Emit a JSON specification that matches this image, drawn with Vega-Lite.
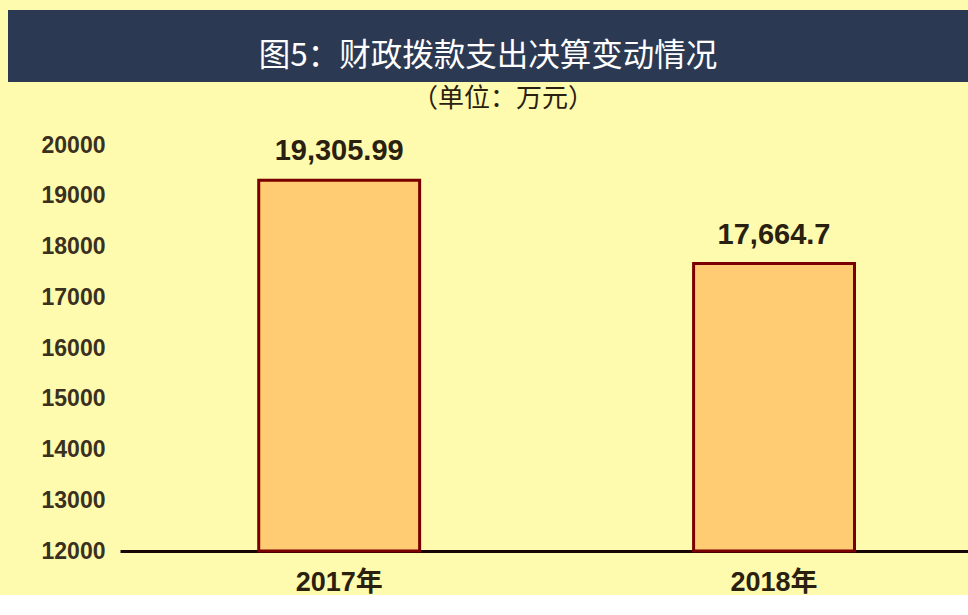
{
  "$schema": "https://vega.github.io/schema/vega-lite/v6.json",
  "background": "#FFFBAE",
  "padding": {"left": 8, "top": 10, "right": 0, "bottom": 0},
  "spacing": 4,
  "config": {
    "view": {"stroke": null},
    "font": "Liberation Sans, Noto Sans CJK SC"
  },
  "vconcat": [
    {
      "width": 960,
      "height": 72,
      "view": {"fill": "#2B3A52", "stroke": null},
      "data": {"values": [{"t": "图5：财政拨款支出决算变动情况"}]},
      "mark": {"type": "text", "color": "#FFFFFF", "fontSize": 31.5, "font": "Noto Sans CJK SC", "dy": 11},
      "encoding": {"text": {"field": "t"}}
    },
    {
      "width": 960,
      "height": 406,
      "title": {
        "text": "（单位：万元）",
        "fontSize": 26,
        "font": "Noto Sans CJK SC",
        "fontWeight": "normal",
        "color": "#2a2010",
        "offset": 22,
        "anchor": "middle",
        "frame": "bounds",
        "dx": 15
      },
      "data": {
        "values": [
          {"year": "2017年", "value": 19305.99},
          {"year": "2018年", "value": 17664.7}
        ]
      },
      "encoding": {
        "x": {
          "field": "year",
          "type": "nominal",
          "sort": null,
          "scale": {"range": [112, 960], "paddingInner": 0.63, "paddingOuter": 0.29, "align": 0.55},
          "axis": {
            "title": null,
            "labelAngle": 0,
            "labelFontSize": 27,
            "labelFontWeight": "bold",
            "labelColor": "#2a2010",
            "labelPadding": 18,
            "ticks": false,
            "domainColor": "#1a0505",
            "domainWidth": 3
          }
        }
      },
      "layer": [
        {
          "mark": {"type": "bar", "fill": "#FFCC73", "stroke": "#7A0000", "strokeWidth": 3},
          "encoding": {
            "y": {
              "field": "value",
              "type": "quantitative",
              "scale": {"domain": [12000, 20000], "nice": false, "zero": false},
              "axis": {
                "values": [12000, 13000, 14000, 15000, 16000, 17000, 18000, 19000, 20000],
                "format": "d",
                "title": null,
                "offset": -112,
                "labelFontSize": 23,
                "labelFontWeight": "bold",
                "labelColor": "#3a3020",
                "labelPadding": 15,
                "ticks": false,
                "domain": false,
                "grid": false
              }
            },
            "y2": {"datum": 12000}
          }
        },
        {
          "mark": {"type": "text", "baseline": "alphabetic", "dy": -20, "fontSize": 29, "fontWeight": "bold", "color": "#2a2010"},
          "encoding": {
            "y": {"field": "value", "type": "quantitative"},
            "text": {"field": "value", "type": "quantitative", "format": ",~f"}
          }
        }
      ]
    }
  ]
}
